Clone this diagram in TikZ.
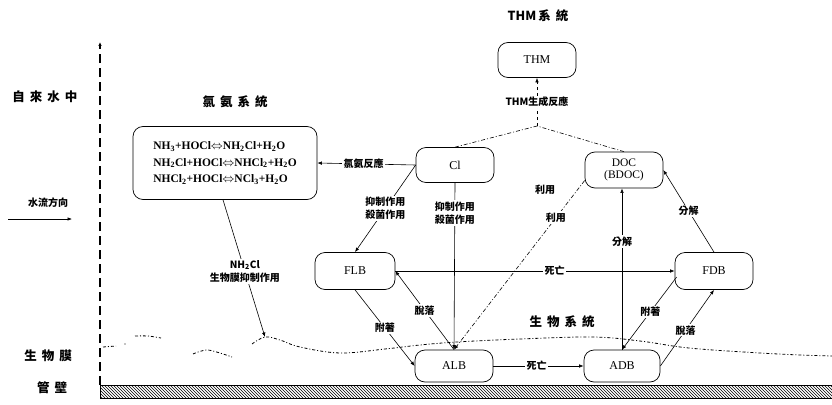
\documentclass[tikz,border=0pt]{standalone}
\usepackage{fontspec}
\setmainfont{Liberation Serif}
\newfontfamily\cjk{Noto Sans CJK TC}
\usetikzlibrary{arrows.meta,patterns,calc}
\newcommand\gapx{\hspace{5pt}}
\begin{document}
\begin{tikzpicture}[x=1pt,y=-1pt,
  box/.style={draw,rounded corners=10pt,line width=0.7pt,minimum width=78pt,minimum height=35pt,font=\fontsize{12}{13}\selectfont,align=center,inner sep=1pt},
  lab/.style={font=\cjk\bfseries\fontsize{10}{13}\selectfont,fill=white,inner sep=1.5pt,align=center},
  head/.style={font=\cjk\bfseries\fontsize{12.5}{14}\selectfont,inner sep=0pt},
  con/.style={line width=0.6pt,-{Latex[length=4.5pt,width=3.5pt]}},
  dd/.style={line width=0.6pt,dash pattern=on 4pt off 2pt on 1pt off 2pt},
  bio/.style={line width=0.8pt,dash pattern=on 3pt off 2pt on 1pt off 2pt},
]
\useasboundingbox (0,0) rectangle (832,404);

% headings
\node[head] (h1) at (45,97) {自\gapx 來\gapx 水\gapx 中};
\node[head] (h2) at (235,102) {氯\gapx 氨\gapx 系\gapx 統};
\node[head] (h3) at (538,16) {THM\hspace{2pt}系\gapx 統};
\node[head] (h4) at (562,322) {生\gapx 物\gapx 系\gapx 統};
\node[head] (h5) at (48,356) {生\gapx 物\gapx 膜};
\node[head] (h6) at (52,388) {管\gapx 壁};
\node[lab,fill=none] (h7) at (48,203) {水流方向};

% water flow arrow
\coordinate (wf1) at (8,219);
\coordinate (wf2) at (72,219);
\draw[con] (wf1) -- (wf2);

% vertical dashed divider
\coordinate (vb) at (100,385);
\coordinate (vt) at (100,42);
\draw[line width=1.1pt,dash pattern=on 9pt off 5pt,-{Latex[length=4pt,width=3.5pt]}] (vb) -- (vt);

% pipe wall
\draw[line width=0.7pt,pattern=north west lines] (100,385) rectangle (832,398);

% biofilm boundary
\draw[bio] (103,347) -- (116,346);
\fill (125,344) circle (0.7pt);
\draw[bio] plot[smooth] coordinates {(135,336) (148,336) (161,338)};
\draw[bio] plot[smooth] coordinates {(193,354) (208,350) (232,357)};
\draw[bio] plot[smooth,tension=0.6] coordinates {(252,344) (265,337) (280,340) (300,347) (340,353) (385,349) (420,345) (457,342) (520,339) (593,337) (640,341) (680,347) (713,350) (760,353) (800,355) (832,356)};

% nodes
\node[draw,rounded corners=10pt,line width=0.7pt,minimum width=184pt,minimum height=73pt,align=left,font=\bfseries\fontsize{11.5}{16.5}\selectfont] (amm) at (225,163)
 {NH\textsubscript{3}+HOCl$\Leftrightarrow$NH\textsubscript{2}Cl+H\textsubscript{2}O\\
  NH\textsubscript{2}Cl+HOCl$\Leftrightarrow$NHCl\textsubscript{2}+H\textsubscript{2}O\\
  NHCl\textsubscript{2}+HOCl$\Leftrightarrow$NCl\textsubscript{3}+H\textsubscript{2}O};
\node[box] (cl) at (455,165) {Cl};
\node[box,minimum height=36pt,font=\fontsize{11.5}{12}\selectfont] (doc) at (624,170) {DOC\\(BDOC)};
\node[box] (thm) at (537,60) {THM};
\node[box,minimum width=80pt,minimum height=37pt] (flb) at (355,271) {FLB};
\node[box,minimum height=37pt] (fdb) at (714,271) {FDB};
\node[box,minimum height=32pt] (alb) at (454,366) {ALB};
\node[box,minimum width=76pt,minimum height=32pt] (adb) at (622,366) {ADB};

\coordinate (bf) at (265,337);
\coordinate (apex) at (537,126);

% THM reaction
\draw[dd] (cl.north) -- (apex);
\draw[dd] (doc.north) -- (apex);
\draw[line width=0.6pt,dashed,-{Latex[length=4.5pt,width=3.5pt]}] (apex) -- node[lab,pos=0.5] {THM生成反應} (thm.south);

% connectors
\draw[con] (cl.west) -- node[lab,pos=0.53] {氯氨反應} (amm.east);
\draw[con] (cl.west) -- node[lab,pos=0.5] {抑制作用\\殺菌作用} (flb.north);
\draw[con] (cl.south) -- node[lab,pos=0.18] {抑制作用\\殺菌作用} (alb.north);
\draw[con] ($(amm.south)+(-2,0)$) -- node[lab,pos=0.52] {NH\textsubscript{2}Cl\\生物膜抑制作用} (bf);
\draw[dd,-{Latex[length=4.5pt,width=3.5pt]}] (doc.195) -- node[lab,pos=0.22] {利用} (alb.north);
\node[lab] (use2) at (545,190) {利用};
\draw[con] (flb.east) -- node[lab,pos=0.57] {死亡} (fdb.west);
\draw[con] (alb.north) -- node[lab,pos=0.5] {脫落} (flb.east);
\draw[con] (flb.south) -- node[lab,pos=0.5] {附著} (alb.west);
\draw[con] ($(fdb.west)+(2,6)$) -- node[lab,pos=0.48] {附著} (adb.north);
\draw[con] (adb.east) -- node[lab,pos=0.47] {脫落} (fdb.south);
\draw[con] (alb.east) -- node[lab,pos=0.48] {死亡} (adb.west);
\draw[con] (adb.north) -- node[lab,pos=0.67] {分解} (adb.north |- doc.south);
\draw[con] (fdb.north) -- node[lab,pos=0.5] {分解} (doc.east);
\end{tikzpicture}
\end{document}
